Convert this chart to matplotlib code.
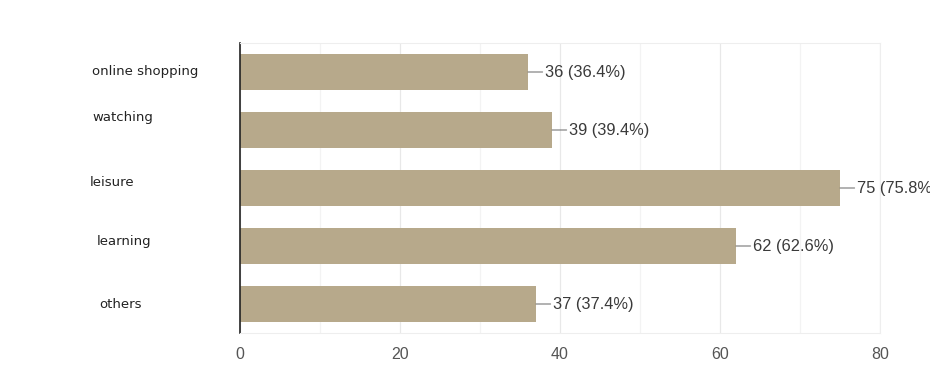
import matplotlib.pyplot as plt
import numpy as np

categories = ['online shopping', 'watching', 'leisure', 'learning', 'others']
counts = [36, 39, 75, 62, 37]
percents = [36.4, 39.4, 75.8, 62.6, 37.4]
x_ticks = [0, 20, 40, 60, 80]

# label nudges (pixels) copied from the original screenshot layout
label_dx = [0, 0, -2, 5, 7]
label_dy = [0, 12, 5, 5, -1]

W, H = 930, 383
fig = plt.figure(figsize=(W / 100, H / 100), dpi=100)
ax = fig.add_axes([240 / W, 1 - 333 / H, 640 / W, 290 / H])

y = np.arange(len(categories))
ax.barh(y, counts, height=0.61, color='#b7a98b', zorder=2)

for i, (c, p) in enumerate(zip(counts, percents)):
    ax.annotate(f'{c} ({p}%)', xy=(c, i), xytext=(12.5, 0), textcoords='offset points',
                ha='left', va='center', fontsize=11.8, family='Liberation Sans', color='#3a3a3a',
                arrowprops=dict(arrowstyle='-', color='#777777', lw=0.8, shrinkA=0, shrinkB=0),
                annotation_clip=False)

for i, name in enumerate(categories):
    ax.annotate(name, xy=(0, i), xycoords=('figure fraction', 'data'),
                xytext=(92 + label_dx[i], label_dy[i]), textcoords='offset pixels',
                ha='left', va='center', fontsize=9.5, family='DejaVu Sans', color='#222222')

ax.set_xlim(0, 80)
ax.set_ylim(len(categories) - 0.5, -0.5)
ax.set_xticks(x_ticks)
ax.set_xticks(np.arange(10, 80, 20), minor=True)
ax.set_xticklabels([str(t) for t in x_ticks], fontsize=11.5, family='Liberation Sans', color='#555555')
ax.set_yticks([])
ax.tick_params(axis='x', which='both', length=0, pad=10)
ax.grid(axis='x', which='major', color='#e8e8e8', lw=0.9, zorder=0)
ax.grid(axis='x', which='minor', color='#f3f3f3', lw=0.9, zorder=0)
for s in ['top', 'bottom', 'right']:
    ax.spines[s].set_color('#eeeeee')
ax.spines['left'].set_color('#222222')
ax.spines['left'].set_linewidth(1.2)

fig.savefig('out.png', dpi=100)
